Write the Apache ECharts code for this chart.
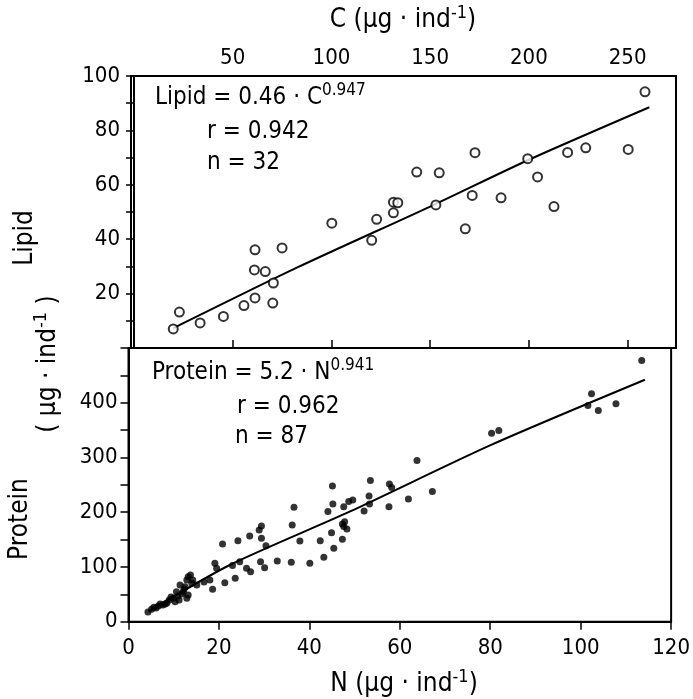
<!DOCTYPE html>
<html>
<head>
<meta charset="utf-8">
<script src="https://cdn.jsdelivr.net/npm/echarts@6/dist/echarts.min.js"></script>
<style>
html,body{margin:0;padding:0;background:#fff;}
#chart{width:693px;height:699px;}
</style>
</head>
<body>
<div id="chart"></div>
<script>
// ---- Upper panel: Lipid vs C ----
const lipidC = [19.9,23.0,33.5,45.3,55.7,61.3,61.3,61.0,66.5,70.6,70.3,75.0,100.2,120.4,122.9,131.4,131.4,133.6,143.2,154.6,152.9,172.7,167.8,171.3,185.9,199.4,204.4,212.7,219.6,228.8,250.3,258.8];
const lipidVal = [7.0,13.2,9.2,11.6,15.6,18.4,36.1,28.7,28.1,23.9,16.5,36.8,45.9,39.6,47.3,49.7,53.6,53.4,64.7,64.4,52.6,71.8,43.8,56.1,55.2,69.6,62.9,52.0,71.9,73.6,73.0,94.2];
const lipidLineC = [20, 83, 150, 200, 261];
const lipidLineVal = [7.3, 29.7, 52, 69.2, 88.5];
const cTicks = [50, 100, 150, 200, 250];

// ---- Lower panel: Protein vs N ----
const proteinN = [5.1,5.6,6.6,7.6,8.1,9.0,9.9,10.3,11.2,11.4,10.6,12.1,12.5,13.2,13.7,14.0,13.2,12.9,15.1,18.0,18.6,19.1,19.5,21.3,20.8,23.0,23.6,24.2,24.6,26.1,27.0,26.8,28.9,29.4,29.4,30.4,29.2,30.1,32.9,36.0,36.2,36.6,37.9,40.1,42.4,43.2,44.1,45.2,45.1,44.9,45.4,47.3,47.3,47.6,47.8,47.6,48.7,49.6,52.1,53.2,53.3,53.5,57.7,58.2,57.6,61.9,63.8,67.2,80.3,81.9,101.6,102.4,103.9,107.8,113.5,
  4.3,6.1,7.0,8.5,9.4,10.9,11.8,12.3,12.9,14.2,16.7,48.3];
const proteinVal = [22.7,26.3,28.7,30.5,32.4,39.7,42.8,36.6,39.7,67.1,54.8,54.8,64.0,82.3,85.4,70.2,48.8,42.8,67.1,76.2,59.2,106.8,97.6,71.3,142.0,102.7,79.3,148.1,109.7,97.6,91.4,156.7,167.6,175.0,152.5,138.9,109.7,98.7,111.0,108.6,176.8,209.1,147.5,106.8,148.1,117.7,201.1,215.2,248.1,162.7,134.2,150.6,178.6,173.7,182.8,210.2,219.4,222.5,202.4,229.8,215.2,257.8,251.7,245.0,210.2,224.3,294.3,237.7,344.4,349.2,394.9,416.3,385.7,398.0,477.1,
  17.7,25.0,32.4,34.2,45.2,47.0,50.6,59.8,76.2,76.2,72.6,169.5];
const proteinLineN = [4.4, 22.4, 48.9, 80.2, 114.2];
const proteinLineVal = [18.5, 103.6, 201, 323, 442];

const FONT = '"DejaVu Sans Condensed", "Liberation Sans Narrow", "DejaVu Sans", sans-serif';
const zip = (a, b) => a.map((v, i) => [v, b[i]]);

const axisLine = {show: true, lineStyle: {color: '#000', width: 2}};
const tick = {show: true, inside: false, length: 8, lineStyle: {color: '#000', width: 1.5}};
const lbl = {color: '#000', fontSize: 22, fontFamily: FONT};

const chart = echarts.init(document.getElementById('chart'), null, {renderer: 'canvas'});

const supRich = {
  m: {fontSize: 24, fontFamily: FONT, color: '#000', lineHeight: 32, verticalAlign: 'middle'},
  s: {fontSize: 17, fontFamily: FONT, color: '#000', lineHeight: 32, verticalAlign: 'top'}
};
const unitRich = {
  m: {fontSize: 26, fontFamily: FONT, color: '#000', lineHeight: 32, verticalAlign: 'middle'},
  s: {fontSize: 18, fontFamily: FONT, color: '#000', lineHeight: 32, verticalAlign: 'top'}
};

function txt(x, y, text, opts) {
  opts = opts || {};
  return {
    type: 'text', x: x, y: y, rotation: opts.rot || 0,
    style: {
      text: text, rich: opts.rich || supRich,
      fill: '#000', font: '24px ' + FONT,
      align: opts.align || 'left', verticalAlign: 'middle'
    }
  };
}

chart.setOption({
  animation: false,
  backgroundColor: '#fff',
  grid: [
    {left: 131, top: 76, width: 545, height: 272, show: true, borderColor: '#000', borderWidth: 2, backgroundColor: 'transparent'},
    {left: 128.5, top: 348, width: 544.5, height: 273.7, show: true, borderColor: '#000', borderWidth: 2, backgroundColor: 'transparent'}
  ],
  xAxis: [
    {gridIndex: 0, type: 'value', position: 'top', min: -1.5, max: 274.5,
     axisLine: axisLine, splitLine: {show: false},
     axisTick: Object.assign({}, tick, {customValues: cTicks}),
     axisLabel: Object.assign({}, lbl, {margin: 7, customValues: cTicks})},
    {gridIndex: 1, type: 'value', position: 'bottom', min: 0, max: 120, interval: 20,
     axisLine: axisLine, splitLine: {show: false}, axisTick: tick,
     axisLabel: Object.assign({}, lbl, {margin: 16})}
  ],
  yAxis: [
    {gridIndex: 0, type: 'value', min: 0, max: 100, interval: 10,
     axisLine: axisLine, splitLine: {show: false}, axisTick: tick,
     axisLabel: Object.assign({}, lbl, {margin: 11, showMinLabel: true, showMaxLabel: true,
       formatter: v => (v > 0 && v % 20 === 0) ? String(v) : ''})},
    {gridIndex: 1, type: 'value', min: 0, max: 500, interval: 50,
     axisLine: axisLine, splitLine: {show: false}, axisTick: tick,
     axisLabel: Object.assign({}, lbl, {margin: 11, showMinLabel: true, showMaxLabel: true,
       formatter: v => (v < 500 && v % 100 === 0) ? String(v) : ''})}
  ],
  series: [
    {type: 'scatter', xAxisIndex: 0, yAxisIndex: 0, data: zip(lipidC, lipidVal),
     symbol: 'emptyCircle', symbolSize: 9, itemStyle: {color: '#000', borderWidth: 1.8}, z: 3},
    {type: 'line', xAxisIndex: 0, yAxisIndex: 0, data: zip(lipidLineC, lipidLineVal),
     showSymbol: false, smooth: 0.25, lineStyle: {color: '#000', width: 2}, z: 2},
    {type: 'scatter', xAxisIndex: 1, yAxisIndex: 1, data: zip(proteinN, proteinVal),
     symbol: 'circle', symbolSize: 7, itemStyle: {color: '#000'}, z: 3},
    {type: 'line', xAxisIndex: 1, yAxisIndex: 1, data: zip(proteinLineN, proteinLineVal),
     showSymbol: false, smooth: 0.25, lineStyle: {color: '#000', width: 2}, z: 2}
  ],
  graphic: [
    txt(403, 20, '{m|C (µg · ind}{s|-1}{m|)}', {align: 'center', rich: unitRich}),
    txt(404, 684, '{m|N (µg · ind}{s|-1}{m|)}', {align: 'center', rich: unitRich}),
    txt(25, 238, '{m|Lipid}', {align: 'center', rot: Math.PI / 2, rich: unitRich}),
    txt(48, 364, '{m|( µg · ind}{s|-1}{m| )}', {align: 'center', rot: Math.PI / 2, rich: unitRich}),
    txt(20, 519, '{m|Protein}', {align: 'center', rot: Math.PI / 2, rich: unitRich}),
    txt(155, 98, '{m|Lipid = 0.46 · C}{s|0.947}'),
    txt(207, 132, '{m|r = 0.942}'),
    txt(207, 163, '{m|n = 32}'),
    txt(152, 373, '{m|Protein = 5.2 · N}{s|0.941}'),
    txt(237, 407, '{m|r = 0.962}'),
    txt(235, 437, '{m|n = 87}')
  ]
});
</script>
</body>
</html>
